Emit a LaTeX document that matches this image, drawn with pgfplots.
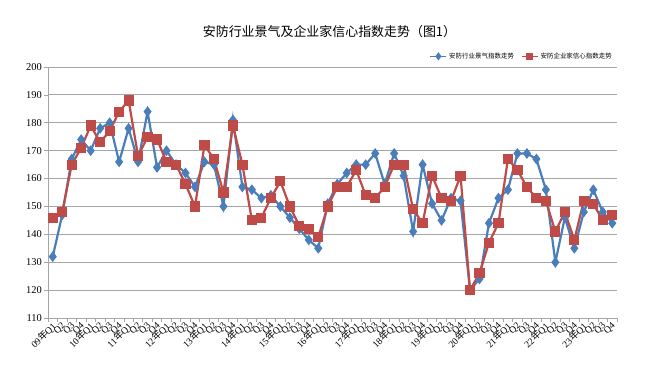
\documentclass[border=0pt]{standalone}
\usepackage{fontspec}
\setmainfont{Liberation Serif}
\newfontfamily\cjk{Noto Sans CJK SC}
\usepackage{pgfplots}
\usepackage{pgfplotstable}
\pgfplotsset{compat=1.18}
\definecolor{sblue}{HTML}{4A7EBB}
\definecolor{sred}{HTML}{BE4B48}
\definecolor{gridc}{HTML}{A6A6A6}
\pgfplotstableread{
i b r
0 132 146
1 147 148
2 167 165
3 174 171
4 170 179
5 178 173
6 180 177
7 166 184
8 178 188
9 166 168
10 184 175
11 164 174
12 170 166
13 165 165
14 162 158
15 157 150
16 166 172
17 165 167
18 150 155
19 181 179
20 157 165
21 156 145
22 153 146
23 154 153
24 150 159
25 146 150
26 142 143
27 138 142
28 135 139
29 151 150
30 158 157
31 162 157
32 165 163
33 165 154
34 169 153
35 158 157
36 169 165
37 161 165
38 141 149
39 165 144
40 151 161
41 145 153
42 153 152
43 152 161
44 120 120
45 124 126
46 144 137
47 153 144
48 156 167
49 169 163
50 169 157
51 167 153
52 156 152
53 130 141
54 146 148
55 135 138
56 148 152
57 156 151
58 148 145
59 144 147
}\datatable
\begin{document}
\begin{tikzpicture}
\useasboundingbox (0,0) rectangle (656bp,367bp);
\begin{axis}[
  at={(48bp,49bp)}, anchor=south west,
  scale only axis, width=569bp, height=251bp,
  xmin=-0.5, xmax=59.5, ymin=110, ymax=200,
  ytick={110,120,...,200},
  /pgf/number format/assume math mode=true,
  yticklabel style={font=\fontsize{10.5}{12}\selectfont, inner sep=2pt},
  ymajorgrids, grid style={gridc, line width=0.9bp},
  axis lines*=left,
  axis line style={gridc, line width=0.9bp},
  tick style={gridc, line width=0.7bp},
  tick align=outside,
  major tick length=4bp,
  xtick={0,...,59},
  x tick style={draw=none},
  minor xtick={-0.5,0.5,...,59.5},
  minor x tick style={draw=gridc},
  minor tick length=4bp,
  xticklabels={
   {09{\cjk 年}Q1},Q2,Q3,Q4,{10{\cjk 年}Q1},Q2,Q3,Q4,{11{\cjk 年}Q1},Q2,Q3,Q4,
   {12{\cjk 年}Q1},Q2,Q3,Q4,{13{\cjk 年}Q1},Q2,Q3,Q4,{14{\cjk 年}Q1},Q2,Q3,Q4,
   {15{\cjk 年}Q1},Q2,Q3,Q4,{16{\cjk 年}Q1},Q2,Q3,Q4,{17{\cjk 年}Q1},Q2,Q3,Q4,
   {18{\cjk 年}Q1},Q2,Q3,Q4,{19{\cjk 年}Q1},Q2,Q3,Q4,{20{\cjk 年}Q1},Q2,Q3,Q4,
   {21{\cjk 年}Q1},Q2,Q3,Q4,{22{\cjk 年}Q1},Q2,Q3,Q4,{23{\cjk 年}Q1},Q2,Q3,Q4},
  xticklabel style={rotate=45, anchor=east, font=\fontsize{9.5}{10}\selectfont, inner sep=0.5pt, yshift=-3bp},
  title={\cjk 安防行业景气及企业家信心指数走势（图1）},
  title style={at={(0.5,1)}, anchor=center, yshift=29bp, xshift=-3bp, font=\fontsize{13}{15}\selectfont},
  legend style={at={(1,1)}, anchor=south east, yshift=3bp, draw=none, fill=none,
    font=\cjk\fontsize{6.5}{7}\selectfont, legend columns=2,
    /tikz/every even column/.append style={column sep=5bp}},
  legend image code/.code={
    \draw[#1, line width=1.6bp] (0bp,0bp) -- (16bp,0bp);
    \draw[#1, only marks, mark size=2.3bp] plot coordinates {(8bp,0bp)};},
]
\addplot[sblue, line width=2.2bp, mark=diamond*, mark size=3.6bp, mark options={solid, fill=sblue}] table[x=i, y=b] {\datatable};
\addplot[sred, line width=2.2bp, mark=square*, mark size=4bp, mark options={solid, fill=sred}] table[x=i, y=r] {\datatable};
\legend{安防行业景气指数走势, 安防企业家信心指数走势}
\end{axis}
\end{tikzpicture}
\end{document}
